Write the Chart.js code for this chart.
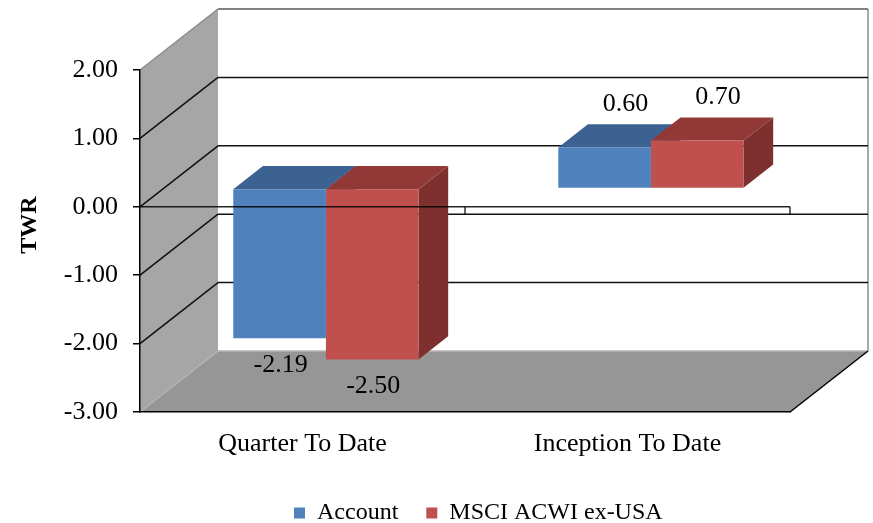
<!DOCTYPE html>
<html>
<head>
<meta charset="utf-8">
<script src="https://cdn.jsdelivr.net/npm/chart.js@4.4.1/dist/chart.umd.min.js"></script>
<style>
  html, body { margin: 0; padding: 0; background: #fff; }
  #wrap { width: 873px; height: 523px; }
</style>
</head>
<body>
<div id="wrap"><canvas id="chart" width="873" height="523"></canvas></div>
<script>
// 카테고리 / 시리즈 값
const categories = ['Quarter To Date', 'Inception To Date'];
const seriesNames = ['Account', 'MSCI ACWI ex-USA'];
const accountTwr = [-2.19, 0.60];
const msciTwr = [-2.50, 0.70];
const yTicks = [2, 1, 0, -1, -2, -3];

const SERIF = "'Liberation Serif', 'Times New Roman', serif";
// 3D 깊이 (벽 전체 / 막대 위치)
const WALL_DX = 78, WALL_DY = -61;
const BAR_Z0 = 0.3, BAR_Z1 = 0.68;

function fillPoly(ctx, pts, color) {
    ctx.beginPath();
    pts.forEach(([px, py], i) => i ? ctx.lineTo(px, py) : ctx.moveTo(px, py));
    ctx.closePath();
    ctx.fillStyle = color;
    ctx.fill();
}

function strokeLine(ctx, pts, color, w) {
    ctx.beginPath();
    pts.forEach(([px, py], i) => i ? ctx.lineTo(px, py) : ctx.moveTo(px, py));
    ctx.strokeStyle = color;
    ctx.lineWidth = w;
    ctx.stroke();
}

function barBox(bar) {
    const p = bar.getProps(['x', 'y', 'base', 'width'], true);
    const ox = WALL_DX * BAR_Z0, oy = WALL_DY * BAR_Z0;
    return {
        l: p.x - p.width / 2 + ox,
        r: p.x + p.width / 2 + ox,
        t: Math.min(p.y, p.base) + oy,
        b: Math.max(p.y, p.base) + oy,
        cx: p.x + ox
    };
}

const box3d = {
    id: 'box3d',
    afterLayout(chart) {
        // 범례 위치 맞추기
        const lg = chart.legend;
        const w = lg.width, h = lg.height;
        lg.left = 266; lg.right = lg.left + w;
        lg.top = 473; lg.bottom = lg.top + h;
    },
    beforeDraw(chart) {
        const { ctx, chartArea: a, scales: { y } } = chart;
        const dx = WALL_DX, dy = WALL_DY;
        ctx.save();
        fillPoly(ctx, [[a.left, a.top], [a.left + dx, a.top + dy], [a.left + dx, a.bottom + dy], [a.left, a.bottom]], '#a6a6a6');
        fillPoly(ctx, [[a.left, a.bottom], [a.right, a.bottom], [a.right + dx, a.bottom + dy], [a.left + dx, a.bottom + dy]], '#969696');
        strokeLine(ctx, [[a.right + dx, a.top + dy], [a.right + dx, a.bottom + dy]], '#8c8c8c', 1.5);
        yTicks.forEach(v => {
            const py = y.getPixelForValue(v);
            let c1 = '#111', c2 = '#111';
            if (v === y.max) { c1 = '#8c8c8c'; c2 = '#5a5a5a'; }
            if (v === y.min) { c1 = '#b4b4b4'; c2 = '#b4b4b4'; }
            strokeLine(ctx, [[a.left, py], [a.left + dx, py + dy]], c1, 1.5);
            strokeLine(ctx, [[a.left + dx, py + dy], [a.right + dx, py + dy]], c2, 1.5);
        });
        strokeLine(ctx, [[a.right, a.bottom], [a.right + dx, a.bottom + dy]], '#000', 1.5);
        ctx.restore();
    },
    beforeDatasetsDraw(chart) {
        const { ctx } = chart;
        const bx = WALL_DX * (BAR_Z1 - BAR_Z0), by = WALL_DY * (BAR_Z1 - BAR_Z0);
        // 윗면, 옆면 먼저 그리고 앞면은 Chart.js가 그림
        chart.data.datasets.forEach((ds, di) => {
            chart.getDatasetMeta(di).data.forEach(bar => {
                const { l, r, t, b } = barBox(bar);
                fillPoly(ctx, [[r, t], [r + bx, t + by], [r + bx, b + by], [r, b]], ds.sideColor);
                fillPoly(ctx, [[l, t], [r, t], [r + bx, t + by], [l + bx, t + by]], ds.topColor);
            });
        });
        ctx.save();
        ctx.translate(WALL_DX * BAR_Z0, WALL_DY * BAR_Z0);
    },
    afterDatasetsDraw(chart) {
        const { ctx, chartArea: a, scales: { x, y } } = chart;
        ctx.restore();
        const bx = WALL_DX * (BAR_Z1 - BAR_Z0), by = WALL_DY * (BAR_Z1 - BAR_Z0);

        // 0 축선과 눈금
        const y0 = y.getPixelForValue(0);
        strokeLine(ctx, [[a.left, y0], [a.right, y0]], 'rgba(0,0,0,0.85)', 1.5);
        const step = x.getPixelForValue(1) - x.getPixelForValue(0);
        categories.forEach((c, i) => {
            const bxp = x.getPixelForValue(i) + step / 2;
            strokeLine(ctx, [[bxp, y0], [bxp, y0 + 8]], '#000', 1.2);
        });

        // 데이터 레이블
        ctx.save();
        ctx.font = '26px ' + SERIF;
        ctx.fillStyle = '#000';
        ctx.textAlign = 'center';
        ctx.textBaseline = 'middle';
        chart.data.datasets.forEach((ds, di) => {
            chart.getDatasetMeta(di).data.forEach((bar, i) => {
                const v = ds.data[i];
                const { t, b, cx } = barBox(bar);
                if (v >= 0) ctx.fillText(v.toFixed(2), cx + bx / 2 + 6, t + by / 2 - 32);
                else ctx.fillText(v.toFixed(2), cx + 1, b + 27);
            });
        });
        ctx.restore();
    },
    afterDraw(chart) {
        const { ctx } = chart;
        ctx.save();
        ctx.translate(30, 225);
        ctx.rotate(-Math.PI / 2);
        ctx.font = 'bold 24px ' + SERIF;
        ctx.fillStyle = '#000';
        ctx.textAlign = 'center';
        ctx.textBaseline = 'middle';
        ctx.fillText('TWR', 0, 0);
        ctx.restore();
    }
};

new Chart(document.getElementById('chart'), {
    type: 'bar',
    data: {
        labels: categories,
        datasets: [{
            label: seriesNames[0],
            data: accountTwr,
            backgroundColor: '#4f81bd',
            topColor: '#3b6291',
            sideColor: '#345781',
            borderWidth: 0,
            barPercentage: 1,
            categoryPercentage: 0.57,
            clip: false
        }, {
            label: seriesNames[1],
            data: msciTwr,
            backgroundColor: '#c0504d',
            topColor: '#923937',
            sideColor: '#7d302e',
            borderWidth: 0,
            barPercentage: 1,
            categoryPercentage: 0.57,
            clip: false
        }]
    },
    options: {
        responsive: false,
        animation: false,
        layout: { padding: { top: 70, right: 83, left: 0, bottom: 0 } },
        scales: {
            x: {
                afterFit: s => { s.height = 49; },
                grid: { display: false, drawTicks: false },
                border: { display: true, color: '#000', width: 1.5 },
                ticks: { padding: 17, color: '#000', font: { family: SERIF, size: 26 }, maxRotation: 0, autoSkip: false }
            },
            y: {
                min: -3,
                max: 2,
                afterFit: s => { s.width = 140; },
                afterBuildTicks: s => { s.ticks = yTicks.map(v => ({ value: v })); },
                ticks: { padding: 15, color: '#000', font: { family: SERIF, size: 26 }, callback: v => v.toFixed(2) },
                grid: { drawOnChartArea: false, drawTicks: true, tickLength: 7, color: '#000', lineWidth: 1.5 },
                border: { display: true, color: '#000', width: 1.5 }
            }
        },
        plugins: {
            legend: {
                position: 'bottom',
                align: 'start',
                labels: {
                    boxWidth: 11,
                    boxHeight: 11,
                    padding: 28,
                    color: '#000',
                    font: { family: SERIF, size: 24 }
                }
            },
            tooltip: { enabled: false }
        }
    },
    plugins: [box3d]
});
</script>
</body>
</html>
